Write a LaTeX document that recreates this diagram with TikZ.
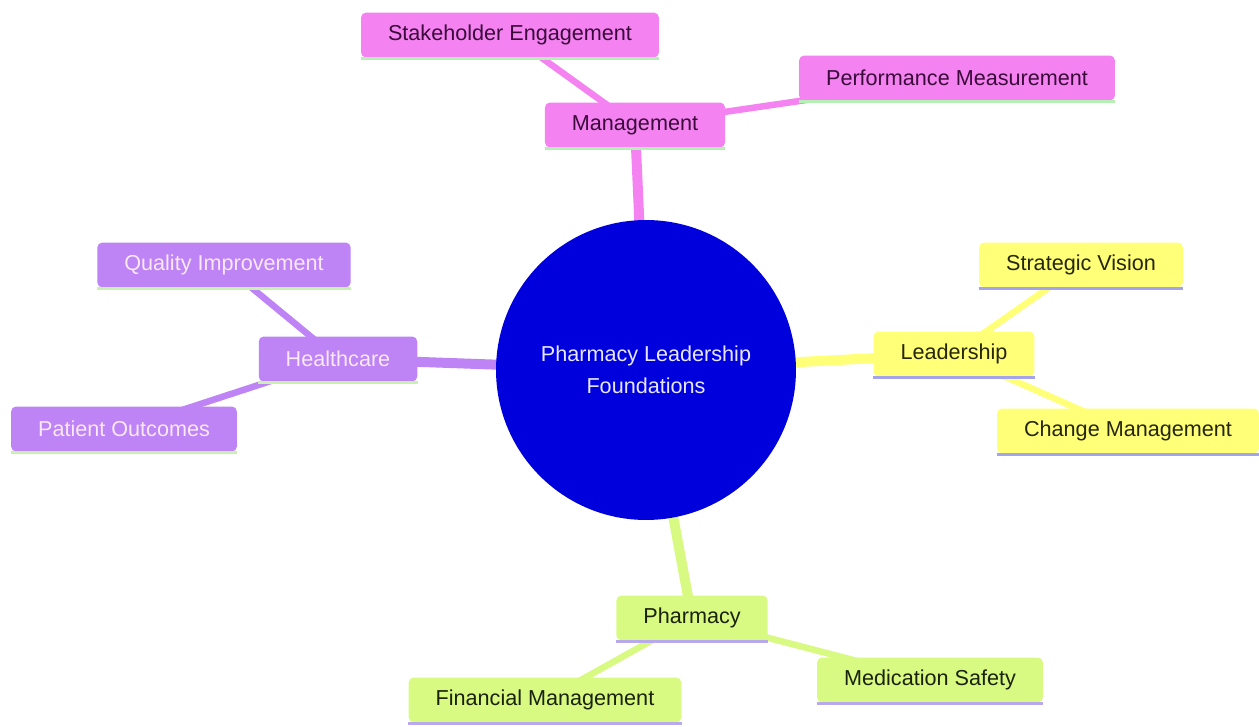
\documentclass[tikz,border=0pt]{standalone}
\usepackage{fontspec}
\setmainfont{Liberation Sans}
\pgfdeclarelayer{background}
\pgfsetlayers{background,main}
\definecolor{rootblue}{HTML}{0000DC}
\definecolor{roottext}{HTML}{E6E6FF}
\definecolor{pinkfill}{HTML}{F483F1}
\definecolor{pinktext}{HTML}{3A0A3A}
\definecolor{pinkline}{HTML}{B4F0B4}
\definecolor{yellowfill}{HTML}{FFFF78}
\definecolor{yellowtext}{HTML}{26260A}
\definecolor{yellowline}{HTML}{A4A4EC}
\definecolor{purplefill}{HTML}{BE83F5}
\definecolor{purpletext}{HTML}{F8E8F8}
\definecolor{purpleline}{HTML}{C8F0B0}
\definecolor{limefill}{HTML}{D8FA83}
\definecolor{limetext}{HTML}{1A220A}
\definecolor{limeline}{HTML}{B8A8EC}
\tikzset{
  topic/.style={rounded corners=0.1cm, minimum height=0.9cm, inner xsep=0.54cm,
    font=\fontsize{12.3}{14.8}\selectfont},
  underline/.style={append after command={([yshift=-0.5pt]\tikzlastnode.south west)
    edge[draw=#1, line width=0.06cm] ([yshift=-0.5pt]\tikzlastnode.south east)}},
  pinknode/.style={topic, fill=pinkfill, text=pinktext, underline=pinkline},
  yellownode/.style={topic, fill=yellowfill, text=yellowtext, underline=yellowline},
  purplenode/.style={topic, fill=purplefill, text=purpletext, underline=purpleline},
  limenode/.style={topic, fill=limefill, text=limetext, underline=limeline},
  rootnode/.style={circle, fill=rootblue, text=roottext, minimum size=6cm, align=center,
    font=\fontsize{12.3}{18}\selectfont},
  mainedge/.style={line width=0.2cm},
  leafedge/.style={line width=0.13cm}
}
\begin{document}
\begin{tikzpicture}[x=0.02cm,y=-0.02cm]
  \useasboundingbox (0,0) rectangle (1259,727);

  \node[rootnode] (root) at (646,370) {Pharmacy Leadership\\Foundations};

  \node[pinknode] (mgmt) at (635,125) {Management};
  \node[pinknode] (stake) at (510,35) {Stakeholder Engagement};
  \node[pinknode] (perf) at (957,78) {Performance Measurement};

  \node[yellownode] (lead) at (954,354) {Leadership};
  \node[yellownode] (vision) at (1081,265) {Strategic Vision};
  \node[yellownode] (change) at (1128,431) {Change Management};

  \node[purplenode] (health) at (338,359) {Healthcare};
  \node[purplenode] (quality) at (224,265) {Quality Improvement};
  \node[purplenode] (patient) at (124,429) {Patient Outcomes};

  \node[limenode] (pharm) at (692,618) {Pharmacy};
  \node[limenode] (finance) at (545,700) {Financial Management};
  \node[limenode] (safety) at (930,680) {Medication Safety};

  \begin{pgfonlayer}{background}
    \draw[mainedge, pinkfill] (root.center) -- (mgmt.center);
    \draw[leafedge, pinkfill] (mgmt.center) -- (stake.center);
    \draw[leafedge, pinkfill] (mgmt.center) -- (perf.center);
    \draw[mainedge, yellowfill] (root.center) -- (lead.center);
    \draw[leafedge, yellowfill] (lead.center) -- (vision.center);
    \draw[leafedge, yellowfill] (lead.center) -- (change.center);
    \draw[mainedge, purplefill] (root.center) -- (health.center);
    \draw[leafedge, purplefill] (health.center) -- (quality.center);
    \draw[leafedge, purplefill] (health.center) -- (patient.center);
    \draw[mainedge, limefill] (root.center) -- (pharm.center);
    \draw[leafedge, limefill] (pharm.center) -- (finance.center);
    \draw[leafedge, limefill] (pharm.center) -- (safety.center);
  \end{pgfonlayer}

\end{tikzpicture}
\end{document}
